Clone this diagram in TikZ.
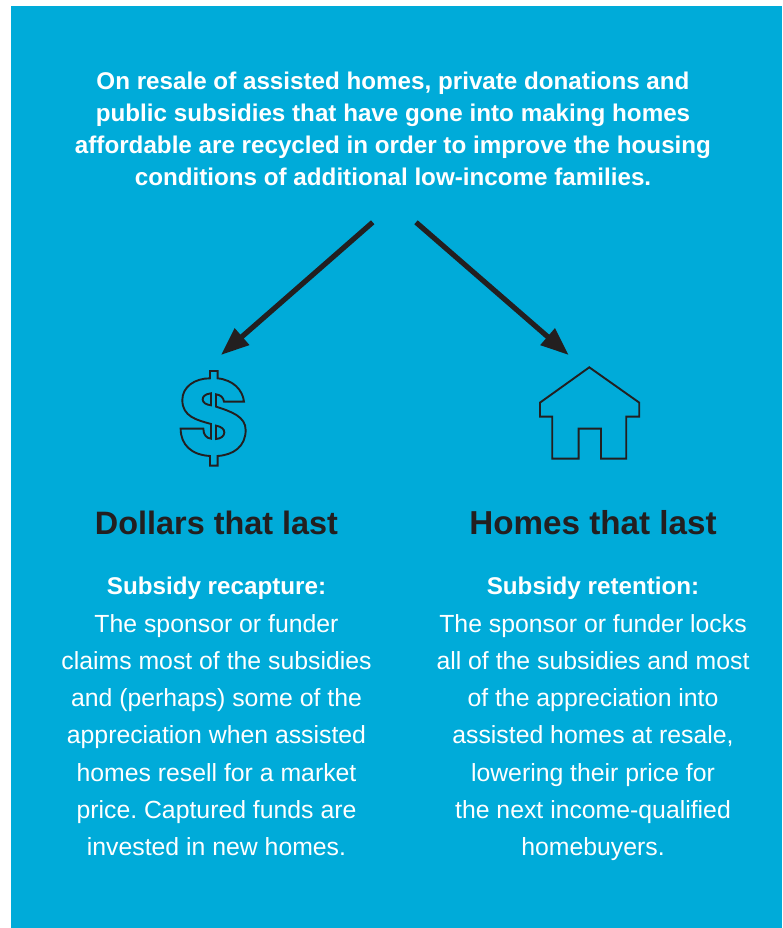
\documentclass[tikz,border=0pt]{standalone}
\usepackage{fontspec}
\setmainfont{Liberation Sans}
\usetikzlibrary{arrows.meta}
\definecolor{panel}{HTML}{00ABD9}
\definecolor{ink}{HTML}{231F20}
\frenchspacing
\tikzset{
  lead/.style={text=white,align=center,font=\bfseries\fontsize{24.2}{32}\selectfont,inner sep=0pt,anchor=north},
  title/.style={text=ink,align=center,font=\bfseries\fontsize{32.4}{37}\selectfont,inner sep=0pt,anchor=base},
  body/.style={text=white,align=center,font=\fontsize{24.8}{37.3}\selectfont,inner sep=0pt,anchor=north},
  pointer/.style={draw=ink,line width=5.2pt,-{Triangle[length=28pt,width=21pt,fill=ink]}},
  icon/.style={draw=ink,line width=1.9pt,line join=miter}
}
\newcommand{\kicker}[1]{{\bfseries\fontsize{24.2}{37.3}\selectfont #1}}
\begin{document}
\begin{tikzpicture}[x=1pt,y=-1pt]
\useasboundingbox (0,0) rectangle (782,928);
\fill[panel] (11,6) rectangle (782,928);
\node[lead] (intro) at (393,72) {On resale of assisted homes, private donations and\\public subsidies that have gone into making homes\\affordable are recycled in order to improve the housing\\conditions of additional low-income families.};
\coordinate (fromL) at (372.7,222.3);
\coordinate (toL) at (221,355);
\coordinate (fromR) at (416,222.3);
\coordinate (toR) at (568.7,355);
\draw[pointer] (fromL) -- (toL);
\draw[pointer] (fromR) -- (toR);
% dollar sign
\begin{scope}[shift={(150,200)},x=0.3333pt,y=-0.3333pt]
\draw[icon] (180,513) -- (203,513) -- (203,535)
  .. controls (250,540) and (278,570) .. (282,605) -- (222,605)
  .. controls (220,592) and (212,585) .. (198,583) -- (198,620)
  .. controls (245,635) and (287,650) .. (287,690)
  .. controls (287,740) and (250,765) .. (203,768) -- (203,797) -- (180,797) -- (180,768)
  .. controls (125,765) and (92,735) .. (92,686) -- (160,686)
  .. controls (160,705) and (170,715) .. (183,716) -- (183,672)
  .. controls (140,660) and (97,650) .. (97,600)
  .. controls (97,560) and (135,535) .. (180,535) -- cycle;
\draw[icon] (183,580) .. controls (165,582) and (158,590) .. (158,598) .. controls (158,608) and (168,614) .. (183,616) -- cycle;
\draw[icon] (198,677) .. controls (215,680) and (223,688) .. (223,697) .. controls (223,708) and (213,716) .. (198,717) -- cycle;
% house
\draw[icon] (1318,502) -- (1468,608) -- (1468,650) -- (1429,650) -- (1429,776) -- (1353,776) -- (1353,686) -- (1286,686) -- (1286,776) -- (1207,776) -- (1207,650) -- (1170,650) -- (1170,608) -- cycle;
\end{scope}
\node[title] (dollars) at (216.5,534) {Dollars that last};
\node[title,font=\bfseries\fontsize{33.2}{37}\selectfont] (homes) at (593,534) {Homes that last};
\node[body] (recapture) at (216.5,577) {\kicker{Subsidy recapture:}\\The sponsor or funder\\claims most of the subsidies\\and (perhaps) some of the\\appreciation when assisted\\homes resell for a market\\price. Captured funds are\\invested in new homes.};
\node[body] (retention) at (593,577) {\kicker{Subsidy retention:}\\The sponsor or funder locks\\all of the subsidies and most\\of the appreciation into\\assisted homes at resale,\\lowering their price for\\the next income-qualified\\homebuyers.};
\end{tikzpicture}
\end{document}
